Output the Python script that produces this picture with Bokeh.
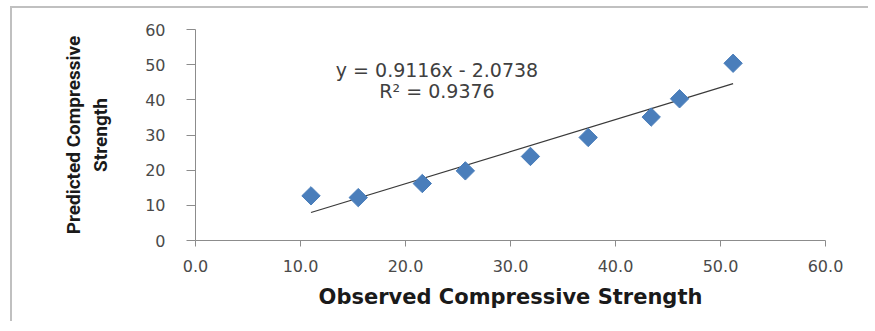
from bokeh.plotting import figure
from bokeh.models import Label, Range1d, FixedTicker
from bokeh.embed import file_html
from bokeh.resources import INLINE
import numpy as np

# Data
observed = [11.0, 15.5, 21.6, 25.7, 31.9, 37.4, 43.4, 46.1, 51.2]
predicted = [12.7, 12.2, 16.2, 19.8, 23.9, 29.3, 35.1, 40.3, 50.4]
slope = 0.9116
intercept = -2.0738
r_squared = 0.9376
x_ticks = [0, 10, 20, 30, 40, 50, 60]
y_ticks = [0, 10, 20, 30, 40, 50, 60]

p = figure(width=858, height=315, output_backend="svg", toolbar_location=None,
           x_range=Range1d(0, 60), y_range=Range1d(0, 60),
           min_border_left=183, min_border_right=45, min_border_top=21, min_border_bottom=83)
p.styles = {"border-left": "2px solid #c0c0c0", "border-top": "2px solid #c0c0c0",
            "margin-left": "10px", "margin-top": "6px"}
p.outline_line_color = None
p.grid.visible = False

for ax in (p.xaxis[0], p.yaxis[0]):
    ax.axis_line_color = "#8c8c8c"
    ax.major_tick_line_color = "#8c8c8c"
    ax.minor_tick_line_color = None
    ax.major_tick_in = 0
    ax.major_label_text_font = "DejaVu Sans"
    ax.major_label_text_font_size = "16px"
    ax.major_label_text_color = "#4a4a4a"
    ax.axis_label_text_font_style = "bold"
    ax.axis_label_text_color = "#1a1a1a"

p.xaxis.ticker = FixedTicker(ticks=x_ticks)
p.yaxis.ticker = FixedTicker(ticks=y_ticks)
p.xaxis.major_label_overrides = {t: f"{t:.1f}" for t in x_ticks}
p.xaxis.major_tick_out = 6
p.yaxis.major_tick_out = 9
p.xaxis.major_label_standoff = 13
p.yaxis.major_label_standoff = 21

p.xaxis.axis_label = "Observed Compressive Strength"
p.xaxis.axis_label_text_font = "DejaVu Sans"
p.xaxis.axis_label_text_font_size = "21px"
p.xaxis.axis_label_standoff = 10

p.yaxis.axis_label = "Predicted Compressive\nStrength"
p.yaxis.axis_label_text_font = "Roboto"
p.yaxis.axis_label_text_font_size = "19px"
p.yaxis.axis_label_standoff = 30

# trendline
xs = np.array([min(observed), max(observed)])
p.line(xs, slope * xs + intercept, line_color="#3a3a3a", line_width=1.2)

p.scatter(observed, predicted, marker="square", angle=np.pi / 4, size=13,
          fill_color="#4a7ebb", line_color="#4a7ebb")

eq1 = Label(x=23.0, y=48.6, text=f"y = {slope}x - {abs(intercept)}", text_align="center",
            text_baseline="middle", text_font="DejaVu Sans", text_font_size="19px",
            text_color="#404040")
eq2 = Label(x=23.0, y=42.6, text=f"R² = {r_squared}", text_align="center",
            text_baseline="middle", text_font="DejaVu Sans", text_font_size="19px",
            text_color="#404040")
p.add_layout(eq1)
p.add_layout(eq2)

open("out.html", "w").write(file_html(p, INLINE))
